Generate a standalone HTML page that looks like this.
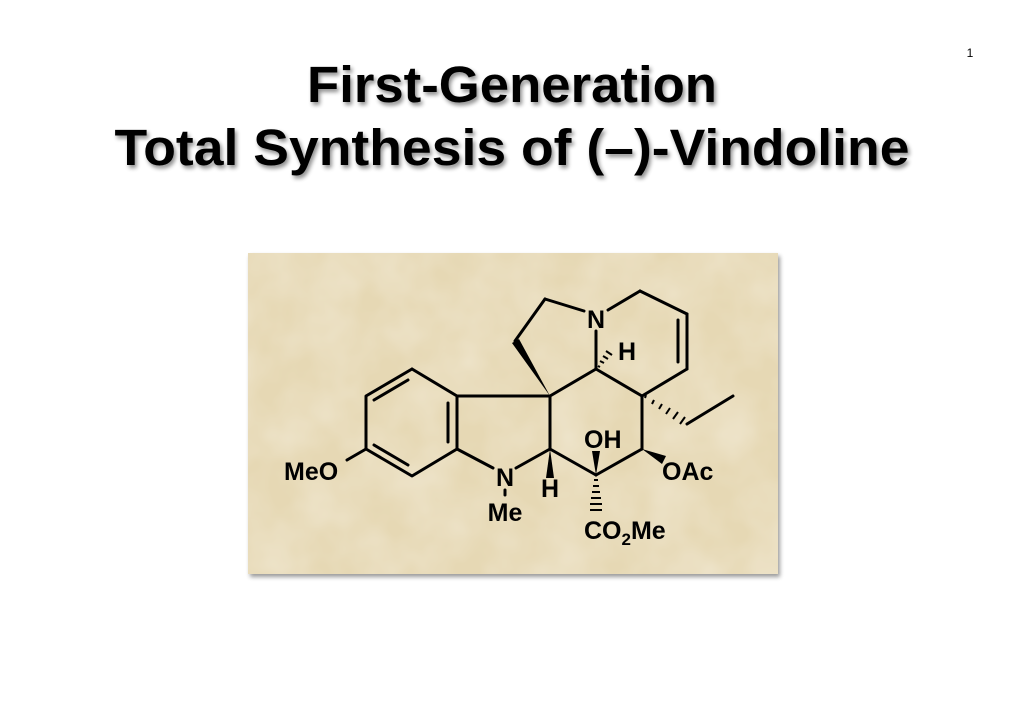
<!DOCTYPE html>
<html><head><meta charset="utf-8"><style>
html,body{margin:0;padding:0;background:#fff;width:1024px;height:724px;overflow:hidden}
</style></head><body>
<svg width="1024" height="724" viewBox="0 0 1024 724" xmlns="http://www.w3.org/2000/svg" font-family="Liberation Sans, sans-serif">
<defs>
<filter id="ts" x="-5%" y="-20%" width="110%" height="150%"><feGaussianBlur in="SourceAlpha" stdDeviation="2"/><feOffset dx="2" dy="3"/><feComponentTransfer><feFuncA type="linear" slope="0.45"/></feComponentTransfer><feMerge><feMergeNode/><feMergeNode in="SourceGraphic"/></feMerge></filter>
<filter id="bs" x="-5%" y="-5%" width="112%" height="115%"><feGaussianBlur in="SourceAlpha" stdDeviation="2"/><feOffset dx="2" dy="3"/><feComponentTransfer><feFuncA type="linear" slope="0.4"/></feComponentTransfer><feMerge><feMergeNode/><feMergeNode in="SourceGraphic"/></feMerge></filter>
<filter id="paper" filterUnits="userSpaceOnUse" x="248" y="253" width="530" height="321"><feTurbulence type="fractalNoise" baseFrequency="0.02" numOctaves="3" seed="4"/><feColorMatrix type="matrix" values="0 0 0 0 0.9  0 0 0 0 0.84  0 0 0 0 0.70  0 0 0 -0.9 0.65"/></filter>
<clipPath id="cp"><rect x="248" y="253" width="530" height="321"/></clipPath>
</defs>
<text x="970" y="57" font-size="12" text-anchor="middle">1</text>
<g filter="url(#ts)" font-weight="bold" font-size="51" text-anchor="middle">
<text x="512" y="102" textLength="410" lengthAdjust="spacingAndGlyphs">First-Generation</text>
<text x="512" y="165" textLength="795" lengthAdjust="spacingAndGlyphs">Total Synthesis of (–)-Vindoline</text>
</g>
<g filter="url(#bs)"><rect x="248" y="253" width="530" height="321" fill="#e6d8b4"/></g>
<g clip-path="url(#cp)"><rect x="248" y="253" width="530" height="321" filter="url(#paper)"/></g>
<g stroke="#000" stroke-width="3" fill="none" stroke-linecap="round" stroke-linejoin="round">
<polyline points="412,369 366,396 366,449 412,476 457,449 457,396 412,369"/>
<line x1="408" y1="380" x2="374" y2="400"/>
<line x1="374" y1="445" x2="408" y2="465"/>
<line x1="448" y1="403" x2="448" y2="442"/>
<line x1="366" y1="449" x2="347" y2="460"/>
<line x1="457" y1="396" x2="550" y2="396"/>
<line x1="457" y1="449" x2="493" y2="468"/>
<line x1="516" y1="468" x2="550" y2="449"/>
<line x1="550" y1="396" x2="550" y2="449"/>
<line x1="550" y1="449" x2="596" y2="475"/>
<line x1="596" y1="475" x2="642" y2="449"/>
<line x1="642" y1="449" x2="642" y2="396"/>
<line x1="642" y1="396" x2="596" y2="369"/>
<line x1="596" y1="369" x2="550" y2="396"/>
<line x1="596" y1="369" x2="596" y2="331"/>
<line x1="584" y1="311" x2="545" y2="299"/>
<line x1="545" y1="299" x2="515" y2="341"/>
<line x1="608" y1="310" x2="640" y2="291"/>
<line x1="640" y1="291" x2="687" y2="314"/>
<line x1="687" y1="314" x2="687" y2="369"/>
<line x1="678" y1="320" x2="678" y2="362"/>
<line x1="687" y1="369" x2="642" y2="396"/>
<line x1="687" y1="424" x2="733" y2="396"/>
<line x1="505" y1="490" x2="505" y2="495"/>
</g>
<polygon points="550,396 512,343 519,339" fill="#000"/>
<polygon points="550,449 546,478 554,478" fill="#000"/>
<polygon points="596,475 592,451 600,451" fill="#000"/>
<polygon points="642,449 662,464 666,456" fill="#000"/>
<g stroke="#000" stroke-width="2">
<line x1="598" y1="366" x2="600" y2="367"/><line x1="600" y1="361" x2="604" y2="363"/><line x1="603" y1="356" x2="608" y2="359"/><line x1="606" y1="351" x2="612" y2="355"/>
<line x1="645" y1="398" x2="646" y2="395"/><line x1="652" y1="404" x2="654" y2="400"/><line x1="659" y1="409" x2="662" y2="404"/><line x1="666" y1="414" x2="670" y2="408"/><line x1="673" y1="419" x2="678" y2="412"/><line x1="680" y1="424" x2="685" y2="417"/>
<line x1="594" y1="480" x2="598" y2="480"/><line x1="593" y1="486" x2="599" y2="486"/><line x1="592" y1="492" x2="600" y2="492"/><line x1="591" y1="498" x2="601" y2="498"/><line x1="590" y1="504" x2="602" y2="504"/><line x1="590" y1="510" x2="602" y2="510"/>
</g>
<g font-weight="bold" font-size="25" fill="#000">
<text x="596" y="328" text-anchor="middle">N</text>
<text x="618" y="360">H</text>
<text x="284" y="480">MeO</text>
<text x="505" y="486" text-anchor="middle">N</text>
<text x="505" y="521" text-anchor="middle">Me</text>
<text x="550" y="497" text-anchor="middle">H</text>
<text x="584" y="448">OH</text>
<text x="662" y="480">OAc</text>
<text x="584" y="539">CO<tspan font-size="17" dy="6">2</tspan><tspan dy="-6">Me</tspan></text>
</g>
</svg>
</body></html>
